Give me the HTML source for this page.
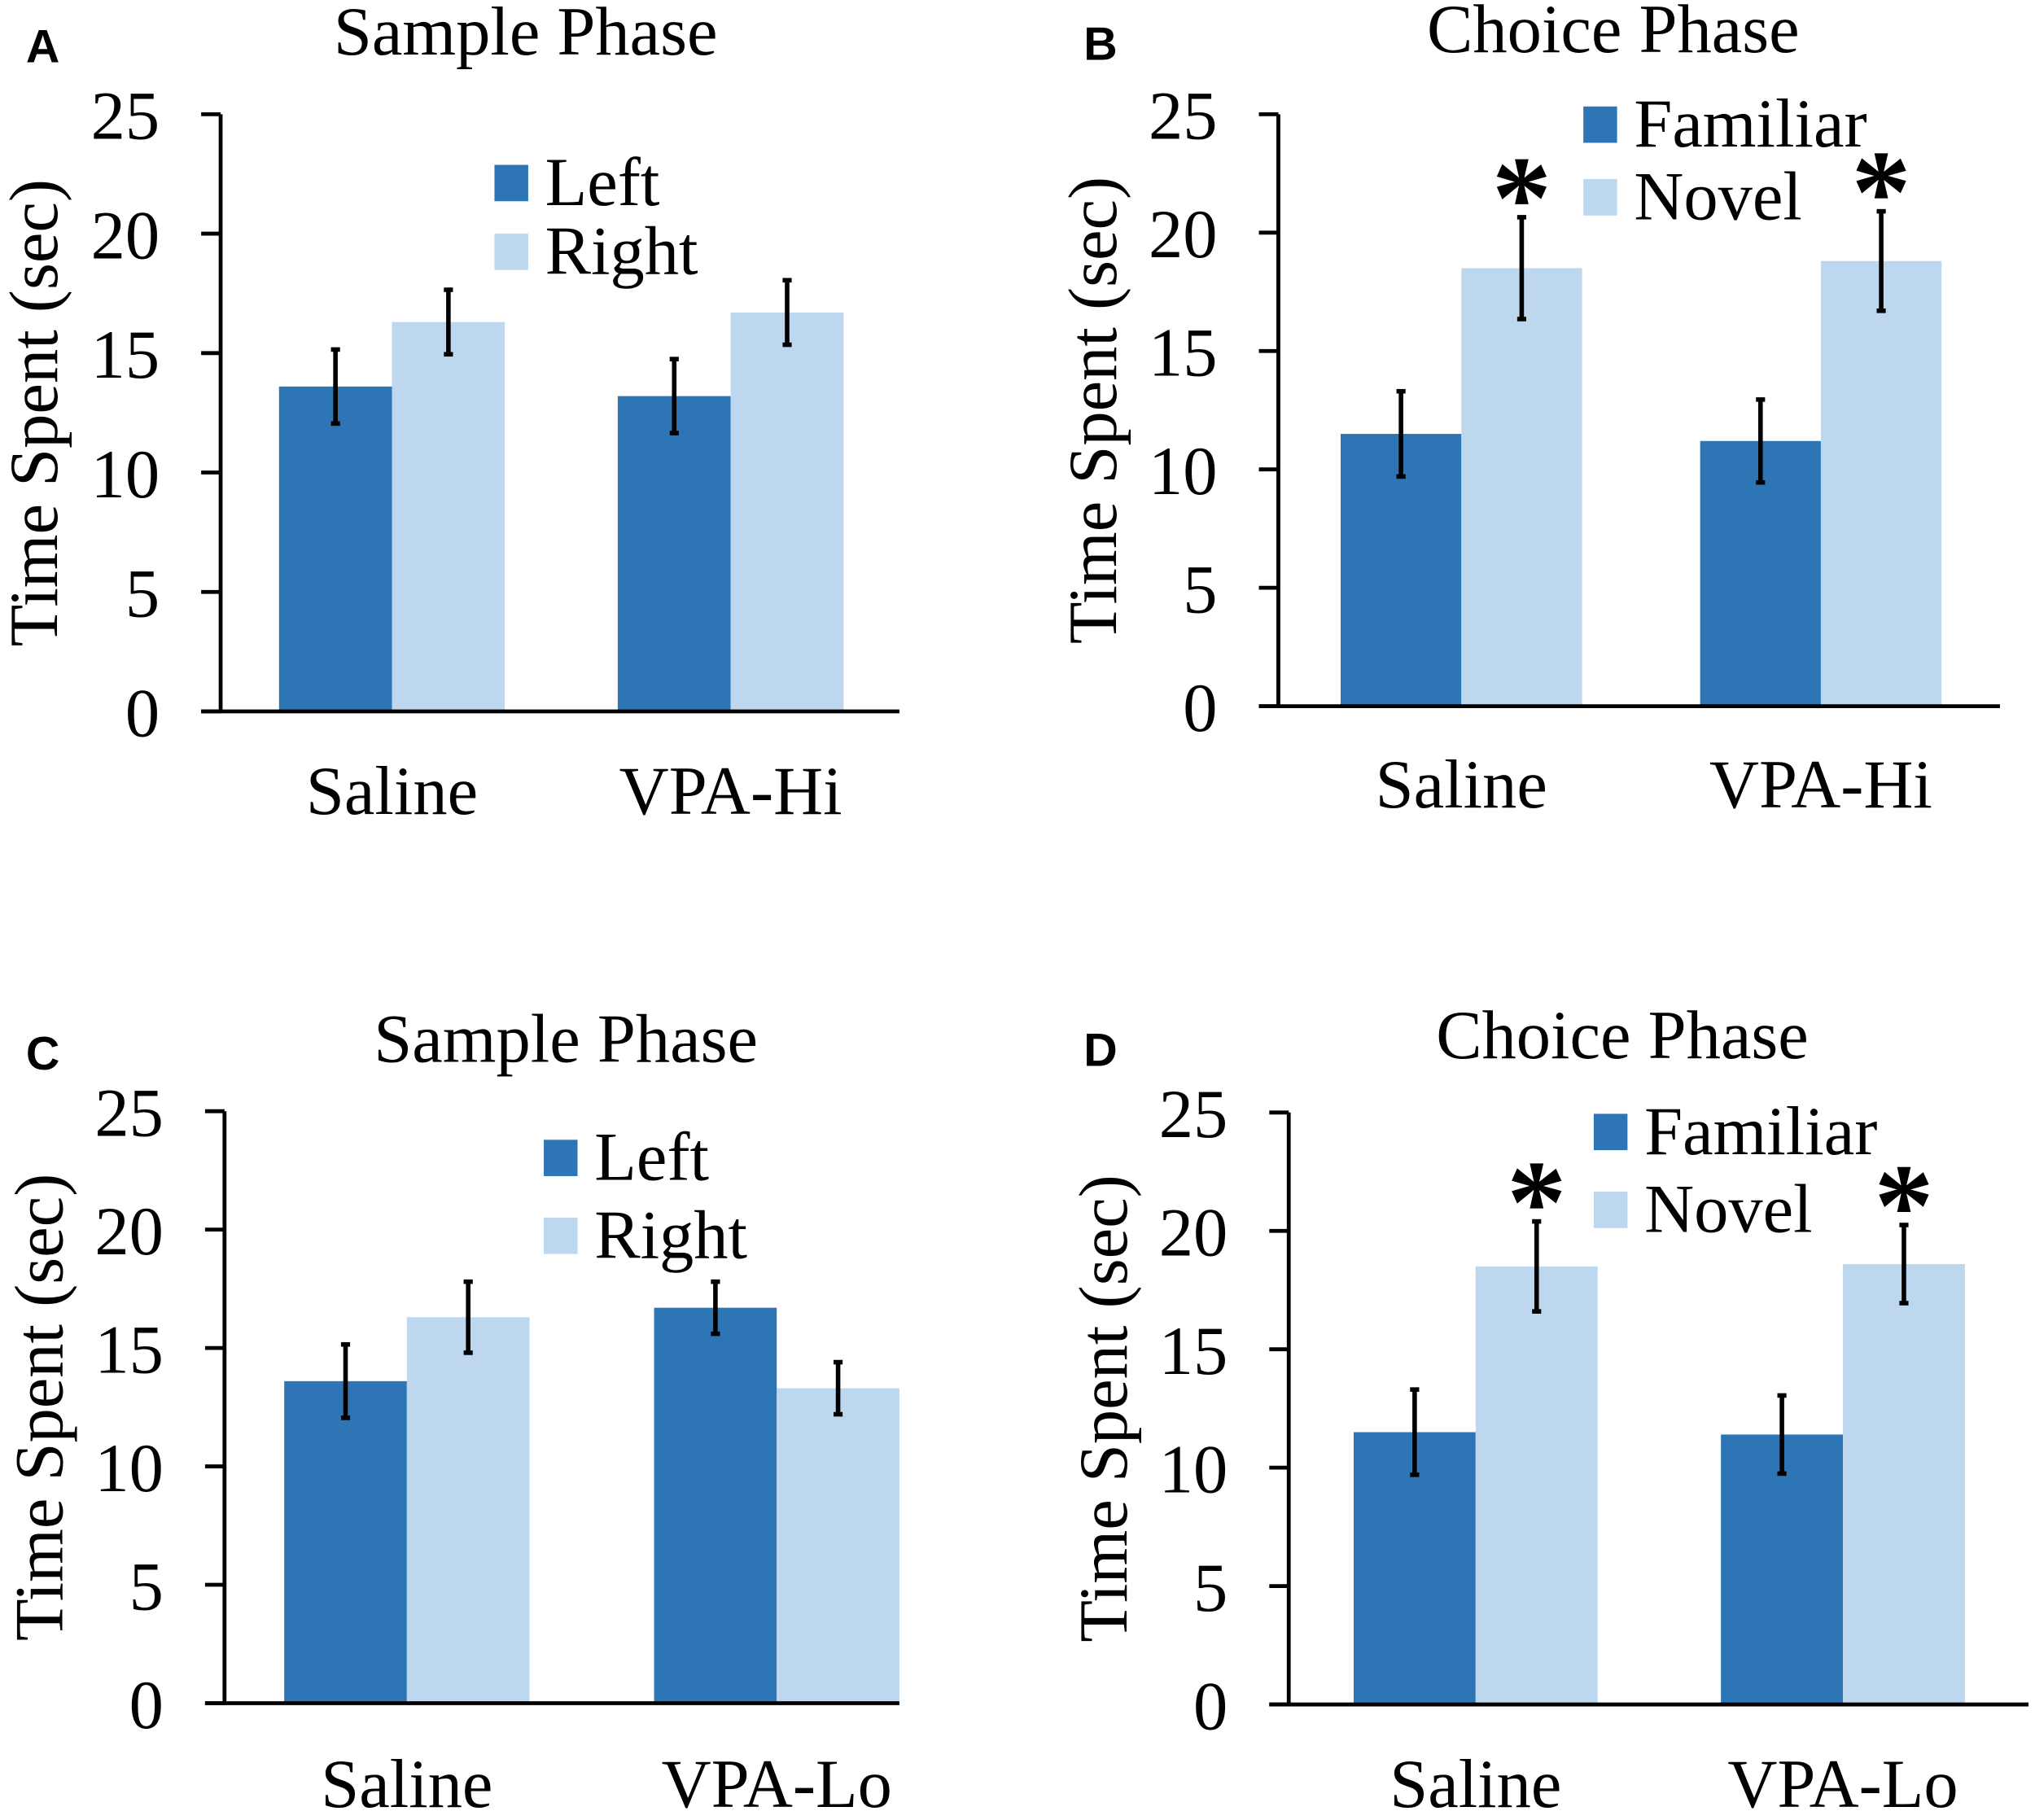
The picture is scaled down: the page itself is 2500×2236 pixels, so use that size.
<!DOCTYPE html>
<html><head><meta charset="utf-8">
<style>
html,body{margin:0;padding:0;background:#fff;}
svg{display:block;}
text{font-family:"Liberation Serif",serif;fill:#000;}
.lbl{font-family:"Liberation Sans",sans-serif;font-weight:bold;}
.star{font-family:"Liberation Serif",serif;font-weight:bold;}
</style></head>
<body>
<svg id="chart" width="2500" height="2236" viewBox="0 0 1568 1402" preserveAspectRatio="none" xmlns="http://www.w3.org/2000/svg"></svg>
<script>
// ---- data ----
const yTicks = [0, 5, 10, 15, 20, 25];
const catsHi = ["Saline", "VPA-Hi"];
const catsLo = ["Saline", "VPA-Lo"];
const seriesSample = ["Left", "Right"];
const seriesChoice = ["Familiar", "Novel"];
const aDark = [13.6, 13.2];
const aLight = [16.3, 16.7];
const aDarkErr = [1.55, 1.55];
const aLightErr = [1.35, 1.35];
const bDark = [11.5, 11.2];
const bLight = [18.5, 18.8];
const bDarkErr = [1.8, 1.75];
const bLightErr = [2.15, 2.1];
const cDark = [13.6, 16.7];
const cLight = [16.3, 13.3];
const cDarkErr = [1.55, 1.1];
const cLightErr = [1.5, 1.1];
const dDark = [11.5, 11.4];
const dLight = [18.5, 18.6];
const dDarkErr = [1.8, 1.65];
const dLightErr = [1.9, 1.65];
const bStars = [true, true];
const dStars = [true, true];

const NS = "http://www.w3.org/2000/svg";
const svg = document.getElementById("chart");
function mk(tag, attrs, parent, txt) {
  const e = document.createElementNS(NS, tag);
  for (const k in attrs) e.setAttribute(k, attrs[k]);
  if (txt !== undefined) e.textContent = txt;
  (parent || svg).appendChild(e);
  return e;
}

function panel(p) {
  const g = mk("g", {});
  
  
  const y = v => p.y0 - (p.y0 - p.y25) * v / 25;
  const L = mk("text", {x: p.letterX, y: p.titleY + 6, "font-size": 36, class: "lbl"}, g, p.letter);
  
  
  const T = mk("text", {x: p.titleX, y: p.titleY, "font-size": 53, "text-anchor": "middle"}, g, p.title);
  
  
  const groupW = p.barW * 2;
  p.cats.forEach((c, i) => {
    const gx = p.groupStart[i];
    [[p.dark, p.darkErr, "#2e75b6", 0], [p.light, p.lightErr, "#bdd7ee", 1]].forEach(([vals, errs, col, k]) => {
      const x = gx + k * p.barW;
      const v = vals[i];
      const r = mk("rect", {x: x, y: y(v), width: p.barW, height: p.y0 - y(v), fill: col}, g);
      
      
      const cx = x + p.barW / 2;
      const e = errs[i];
      const eg = mk("g", {stroke: "#000", "stroke-width": 3.5}, g);
      
      
      mk("line", {x1: cx, x2: cx, y1: y(v + e), y2: y(v - e)}, eg);
      mk("line", {x1: cx - 3.5, x2: cx + 3.5, y1: y(v + e), y2: y(v + e)}, eg);
      mk("line", {x1: cx - 3.5, x2: cx + 3.5, y1: y(v - e), y2: y(v - e)}, eg);
      if (k === 1 && p.stars && p.stars[i]) {
        const s = mk("text", {x: cx, y: y(v + e) + 16, "font-size": 92, "text-anchor": "middle", class: "star"}, g, "*");
        
        
      }
    });
    const ct = mk("text", {x: gx + groupW / 2, y: p.catY, "font-size": 53, "text-anchor": "middle"}, g, c);
    
    
  });
  const ax = mk("g", {stroke: "#000", "stroke-width": 3}, g);
  
  
  mk("line", {x1: p.axisX, x2: p.axisX, y1: p.y25, y2: p.y0}, ax);
  mk("line", {x1: p.axisX - 15, x2: p.xEnd, y1: p.y0, y2: p.y0}, ax);
  yTicks.forEach(t => {
    mk("line", {x1: p.axisX - 15, x2: p.axisX, y1: y(t), y2: y(t)}, ax);
    const tl = mk("text", {x: p.axisX - 47, y: y(t) + 19, "font-size": 53, "text-anchor": "end"}, g, String(t));
    
    
  });
  const yt = mk("text", {x: 0, y: 0, "font-size": 53, "text-anchor": "middle", transform: `translate(${p.yTitleX},${(p.y0 + p.y25) / 2}) rotate(-90)`}, g, "Time Spent (sec)");
  
  
  const lg = mk("g", {}, g);
  
  
  [["#2e75b6", p.series[0], 0], ["#bdd7ee", p.series[1], 1]].forEach(([col, name, k]) => {
    const sy = p.legY + k * p.legGap;
    const sw = mk("rect", {x: p.legX, y: sy, width: 26, height: 28, fill: col}, lg);
    
    
    const lt = mk("text", {x: p.legX + 39, y: sy + 31, "font-size": 53}, lg, name);
    
    
  });
}

panel({letter: "A", letterX: 20, title: "Sample Phase", titleX: 405, titleY: 42,
  axisX: 170, y0: 548, y25: 88, xEnd: 693, barW: 87, groupStart: [215, 476],
  cats: catsHi, series: seriesSample, dark: aDark, light: aLight, darkErr: aDarkErr, lightErr: aLightErr,
  catY: 627, yTitleX: 44, legX: 381, legY: 127, legGap: 53});
panel({letter: "B", letterX: 835, title: "Choice Phase", titleX: 1243, titleY: 40,
  axisX: 985, y0: 544, y25: 88, xEnd: 1541, barW: 93, groupStart: [1033, 1310],
  cats: catsHi, series: seriesChoice, dark: bDark, light: bLight, darkErr: bDarkErr, lightErr: bLightErr, stars: bStars,
  catY: 622, yTitleX: 860, legX: 1220, legY: 82, legGap: 56});
panel({letter: "C", letterX: 20, title: "Sample Phase", titleX: 436, titleY: 818,
  axisX: 173, y0: 1312, y25: 856, xEnd: 693, barW: 94.5, groupStart: [219, 504],
  cats: catsLo, series: seriesSample, dark: cDark, light: cLight, darkErr: cDarkErr, lightErr: cLightErr,
  catY: 1392, yTitleX: 48, legX: 419, legY: 878, legGap: 60});
panel({letter: "D", letterX: 835, title: "Choice Phase", titleX: 1250, titleY: 815,
  axisX: 993, y0: 1313, y25: 857, xEnd: 1563, barW: 94, groupStart: [1043, 1326],
  cats: catsLo, series: seriesChoice, dark: dDark, light: dLight, darkErr: dDarkErr, lightErr: dLightErr, stars: dStars,
  catY: 1392, yTitleX: 868, legX: 1228, legY: 858, legGap: 60});
</script>
</body></html>
